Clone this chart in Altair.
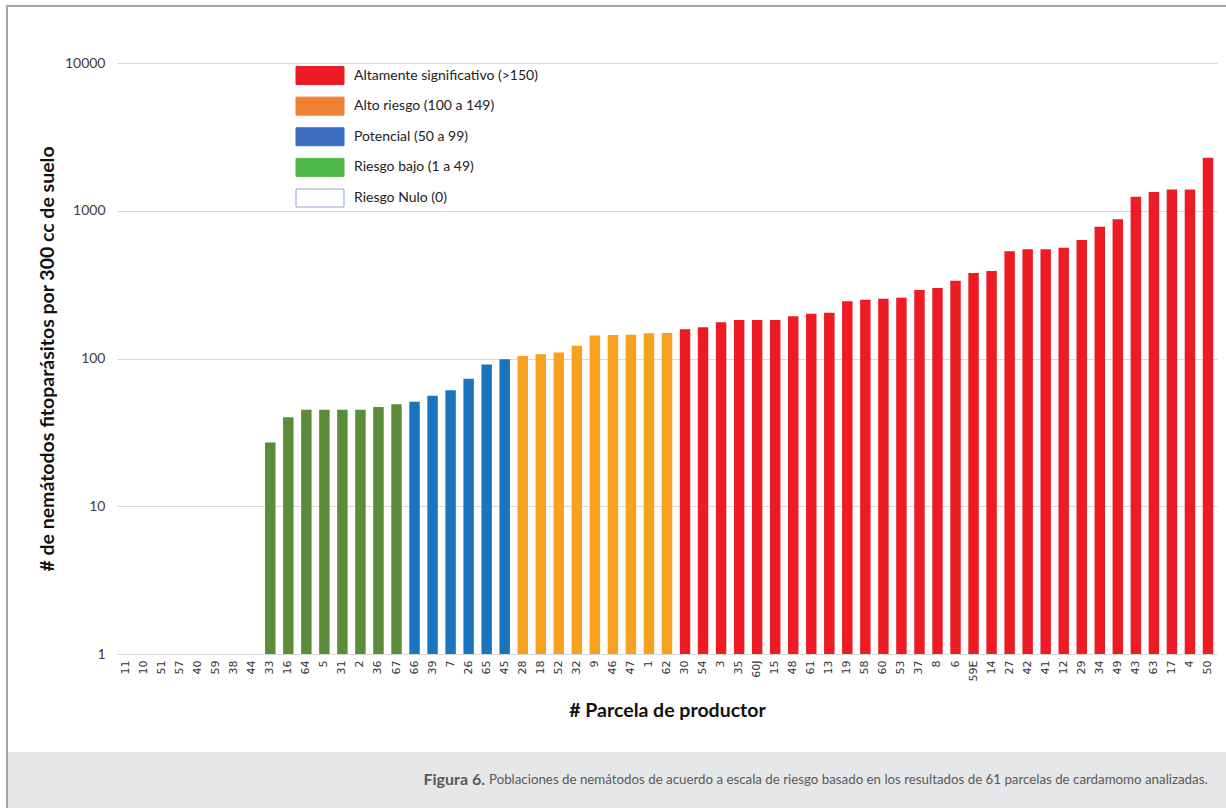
import altair as alt
import pandas as pd

# Parcels in plotting order (ascending nematode population)
parcelas = ["11", "10", "51", "57", "40", "59", "38", "44",
            "33", "16", "64", "5", "31", "2", "36", "67",
            "66", "39", "7", "26", "65", "45",
            "28", "18", "52", "32", "9", "46", "47", "1", "62",
            "30", "54", "3", "35", "60J", "15", "48", "61", "13", "19",
            "58", "60", "53", "37", "8", "6", "59E", "14", "27", "42",
            "41", "12", "29", "34", "49", "43", "63", "17", "4", "50"]

# Nematodes per 300 cc of soil
valores = [0, 0, 0, 0, 0, 0, 0, 0,
           27, 40, 45, 45, 45, 45, 47, 49,
           51, 56, 61, 73, 91, 99,
           104, 107, 110, 122, 143, 144, 145, 148, 149,
           158, 163, 176, 182, 182, 182, 193, 201, 204, 244,
           250, 254, 258, 291, 300, 336, 379, 391, 532, 548,
           548, 562, 634, 780, 875, 1245, 1340, 1390, 1390, 2286]

riesgos = ["Altamente significativo (>150)", "Alto riesgo (100 a 149)",
           "Potencial (50 a 99)", "Riesgo bajo (1 a 49)", "Riesgo Nulo (0)"]
colores_barra = ["#ED1C24", "#F7A11F", "#1B75BC", "#5B8C3A", "#FFFFFF"]
colores_leyenda = ["#ED1C24", "#F08033", "#3D6DBE", "#4DB848", "#FFFFFF"]
bordes_leyenda = ["#ED1C24", "#F08033", "#3D6DBE", "#4DB848", "#8FA4CF"]


def clasificar(v):
    if v >= 150:
        return riesgos[0]
    if v >= 100:
        return riesgos[1]
    if v >= 50:
        return riesgos[2]
    if v >= 1:
        return riesgos[3]
    return riesgos[4]


df = pd.DataFrame({"parcela": parcelas, "valor": valores})
df["riesgo"] = df["valor"].apply(clasificar)

leyenda = pd.DataFrame({"riesgo": riesgos, "orden": list(range(5)),
                        "relleno": colores_leyenda, "borde": bordes_leyenda})

W, H = 1100, 591
PAD_L, PAD_T, PAD_R, PAD_B = 117, 63, 9, 154
FONT = "Lato, Open Sans, sans-serif"

barras = alt.Chart(df).transform_filter("datum.valor > 0").mark_bar().encode(
    x=alt.X("parcela:N", sort=parcelas,
            scale=alt.Scale(domain=parcelas, paddingInner=0.42, paddingOuter=0.21),
            axis=alt.Axis(title="# Parcela de productor", labelAngle=-90,
                          labelFont="DejaVu Sans", labelFontSize=11,
                          labelColor="#333333", labelPadding=6,
                          ticks=False, domainColor="#D9D9D9",
                          titleFont=FONT, titleFontSize=19.5, titleFontWeight="bold",
                          titleColor="#111111", titleY=56, titleBaseline="middle")),
    y=alt.Y("valor:Q", stack=None,
            scale=alt.Scale(type="log", domain=[1, 10000]),
            axis=alt.Axis(title="# de nemátodos fitoparásitos por 300 cc de suelo",
                          values=[1, 10, 100, 1000, 10000], format="d",
                          labelFont=FONT, labelFontSize=14, labelColor="#404040",
                          labelPadding=12, ticks=False, domain=False,
                          gridColor="#D9D9D9", gridWidth=1,
                          titleFont=FONT, titleFontSize=19.5, titleFontWeight="bold",
                          titleColor="#111111", titleX=-70, titleY=H / 2,
                          titleAngle=-90, titleAlign="center",
                          titleBaseline="middle")),
    color=alt.Color("riesgo:N", scale=alt.Scale(domain=riesgos, range=colores_barra),
                    legend=None),
)

# Legend swatches and labels in the upper left of the plot
y_ley = alt.Y("orden:O", scale=alt.Scale(type="point", range=[12.5, 135], padding=0),
              axis=None)
muestras = alt.Chart(leyenda).mark_point(
    shape="M-1,-0.375L1,-0.375L1,0.375L-1,0.375Z",
    size=2304, filled=True, strokeWidth=1, opacity=1,
).encode(
    x=alt.value(203),
    y=y_ley,
    fill=alt.Fill("relleno:N", scale=None),
    stroke=alt.Stroke("borde:N", scale=None),
)
textos = alt.Chart(leyenda).mark_text(
    align="left", baseline="middle", font=FONT, fontSize=14, color="#222222",
).encode(
    x=alt.value(237),
    y=y_ley,
    text="riesgo:N",
)

# Page frame and caption band below the chart (offsets from the plot's top-left)
uno = pd.DataFrame({"k": [0]})
banda = alt.Chart(uno).mark_rect(color="#E6E7E8").encode(
    x=alt.value(-110), x2=alt.value(W + PAD_R), y=alt.value(689), y2=alt.value(H + PAD_B))
marco_izq = alt.Chart(uno).mark_rule(color="#A6A6A6", strokeWidth=2).encode(
    x=alt.value(-110), y=alt.value(-57), y2=alt.value(H + PAD_B))
marco_sup = alt.Chart(uno).mark_rule(color="#A6A6A6", strokeWidth=2).encode(
    x=alt.value(-111), x2=alt.value(W + PAD_R), y=alt.value(-57))

CAP_FONT = "Lato, Open Sans, sans-serif"
pie_negrita = alt.Chart(uno).mark_text(
    text="Figura 6.", align="right", baseline="middle", font=CAP_FONT,
    fontSize=16, fontWeight="bold", color="#58595B",
).encode(x=alt.value(368), y=alt.value(717))
pie_texto = alt.Chart(uno).mark_text(
    text="Poblaciones de nemátodos de acuerdo a escala de riesgo basado en los "
         "resultados de 61 parcelas de cardamomo analizadas.",
    align="left", baseline="middle", font=CAP_FONT, fontSize=13.3,
    fontWeight="normal", color="#58595B",
).encode(x=alt.value(372), y=alt.value(717))

chart = alt.layer(
    banda, marco_izq, marco_sup, barras, muestras, textos, pie_negrita, pie_texto
).resolve_scale(
    y="independent"
).properties(
    width=W, height=H,
    padding={"left": PAD_L, "top": PAD_T, "right": PAD_R, "bottom": PAD_B},
    autosize=alt.AutoSizeParams(type="none"),
    background="#FFFFFF",
).configure_view(stroke=None)

chart.save("out.html", embed_options={"renderer": "svg", "actions": False})
